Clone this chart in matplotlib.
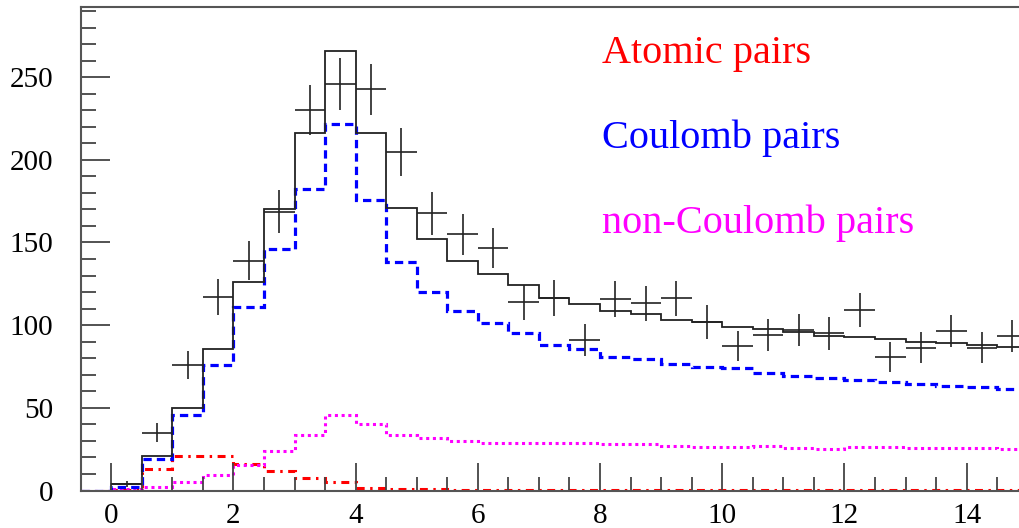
import numpy as np
import matplotlib
matplotlib.use('Agg')
import matplotlib.pyplot as plt
from matplotlib.ticker import MultipleLocator

# ----------------- Data -----------------
edges = np.arange(-0.5, 15.01, 0.5)

# total MC (solid black)
total_mc = [0, 4, 21, 50, 85.5, 126, 170, 216, 266, 216.5, 171, 152, 139, 131, 124, 116.6,
            113, 108.5, 107, 103, 102, 99, 97.4, 96, 93.6, 93, 91.4, 90, 89.4, 88, 87]
# Coulomb pairs (blue dashed)
coulomb = [0, 2.3, 19, 45.6, 75.9, 110.7, 146, 182.3, 221.6, 176, 138, 120.2, 108.7, 101.5, 95,
           88, 85.3, 80.9, 79.3, 76.7, 74.9, 73.9, 70.8, 69.2, 68.2, 66.8, 65.4, 64.4, 63.4, 62.4, 61.4]
# non-Coulomb pairs (magenta dotted)
non_coulomb = [0, 0.7, 1.9, 5, 9.2, 15.4, 23.7, 33.7, 45.6, 40.4, 33.5, 31.5, 30.1, 28.9, 28.9,
               28.9, 28.5, 28.1, 28.1, 26.9, 26.5, 26.1, 26.9, 25.9, 24.9, 26.5, 26.5, 25.9, 25.9, 25.5, 25.1]
# atomic pairs (red dash-dot)
atomic = [0, 0.5, 13, 21, 21, 16.2, 11.6, 7.4, 4.9, 1.3, 1.0, 0.7, 0.5, 0.4, 0.4, 0.3,
          0.3, 0.3, 0.3, 0.3, 0.3, 0.3, 0.3, 0.3, 0.3, 0.3, 0.3, 0.3, 0.3, 0.3, 0.3]

# measured data points (bin centres 0.25 ... 14.75)
data_x = np.arange(0.25, 15, 0.5)
data_y = [4, 35, 75.9, 117, 139, 168.6, 230, 246, 242.6, 204.8, 167.6, 154.9, 146.4, 113.8, 116.6,
          91, 115.8, 113.2, 116.2, 102, 87.4, 94, 97, 95, 109.1, 80.9, 86.4, 96.6, 86.4, 93.4]

labels = ['Atomic pairs', 'Coulomb pairs', 'non-Coulomb pairs']
label_colors = ['#ff0000', '#0000ff', '#ff00ff']

plt.rcParams['font.family'] = ['Liberation Serif', 'DejaVu Serif']

fig = plt.figure(figsize=(10.2, 5.28), dpi=100)
ax = fig.add_axes([0.0791, 0.071, 0.9285, 0.9163])

ax.stairs(atomic, edges, color='#ff0000', linewidth=2.2, linestyle=(0, (2.6, 1.8, 0.8, 1.8)))
ax.stairs(non_coulomb, edges, color='#ff00ff', linewidth=2.2, linestyle=(0, (1, 1.2)))
ax.stairs(coulomb, edges, color='#0000ff', linewidth=2.3, linestyle=(0, (2.6, 1.6)))
ax.stairs(total_mc, edges, color='#222222', linewidth=1.3)

ax.errorbar(data_x, data_y, xerr=0.25, yerr=np.sqrt(data_y), fmt='none',
            ecolor='#222222', elinewidth=1.2, capsize=0)

ax.set_xlim(-0.5, 15)
ax.set_ylim(0, 292.6)

ax.xaxis.set_major_locator(MultipleLocator(2))
ax.xaxis.set_minor_locator(MultipleLocator(0.5))
ax.yaxis.set_major_locator(MultipleLocator(50))
ax.yaxis.set_minor_locator(MultipleLocator(10))
ax.tick_params(which='both', direction='in', top=False, right=False, colors='#444444',
               labelcolor='black', labelsize=21)
ax.tick_params(axis='y', which='major', length=21, width=1.3, pad=20)
ax.tick_params(axis='y', which='minor', length=11, width=1.3)
ax.tick_params(axis='x', which='major', length=20, width=1.3, pad=9)
ax.tick_params(axis='x', which='minor', length=10, width=1.3)

for s in ax.spines.values():
    s.set_color('#555555')
    s.set_linewidth(1.5)
ax.spines['right'].set_visible(False)

# label texts, baselines at 63, 148, 233 px from the top
for i, (txt, col) in enumerate(zip(labels, label_colors)):
    fig.text(601.7 / 1020, 1 - (63 + 85 * i) / 528, txt, color=col, fontsize=29,
             va='baseline', ha='left')

fig.savefig('out.png', dpi=100)
